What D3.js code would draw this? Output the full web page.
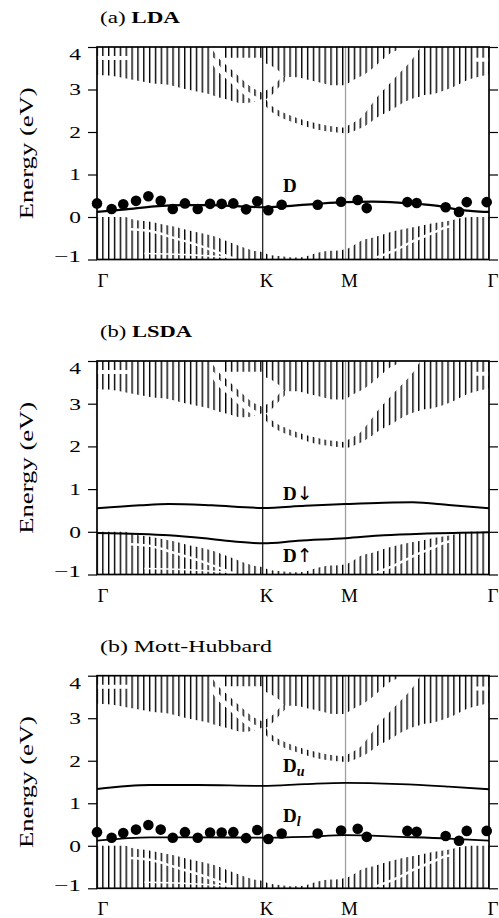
<!DOCTYPE html>
<html>
<head>
<meta charset="utf-8">
<script src="https://cdn.jsdelivr.net/npm/d3@7"></script>
<style>
body{margin:0;background:#fff}
</style>
</head>
<body>
<svg id="fig" width="499" height="918"></svg>
<script>
var FONT = "Liberation Serif";
// k path length along the hexagonal zone: G-K = 2/sqrt3, K-M = 1/sqrt3, M-G = 1
var kTicks = [0, 1.1547, 1.7321, 2.7321];
var kLabels = ["Γ", "K", "M", "Γ"];
var eTicks = [-1, 0, 1, 2, 3, 4];
var eTickLabels = ["−1", "0", "1", "2", "3", "4"];
var titles = ["(a) ", "(b) ", "(b) Mott-Hubbard"];
var titleBold = ["LDA", "LSDA", ""];

// projected bulk bands [k, lower E, upper E]
var valence = [[0,-1.1,0.0],[0.195,-1.1,0.0],[0.242,-1.1,-0.05],[0.312,-1.1,-0.09],[0.381,-1.1,-0.12],
  [0.451,-1.1,-0.17],[0.544,-1.1,-0.23],[0.634,-1.1,-0.31],[0.730,-1.1,-0.38],[0.822,-1.1,-0.46],
  [0.915,-1.1,-0.58],[1.008,-1.1,-0.70],[1.101,-1.1,-0.80],[1.1547,-1.1,-0.83],[1.192,-1.1,-0.88],
  [1.275,-1.1,-0.92],[1.366,-1.1,-0.95],[1.415,-1.1,-0.95],[1.519,-1.1,-0.86],[1.575,-1.1,-0.81],
  [1.694,-1.1,-0.78],[1.7321,-1.1,-0.76],[1.775,-1.1,-0.70],[1.810,-1.1,-0.62],[1.854,-1.1,-0.54],
  [1.903,-1.1,-0.50],[1.949,-1.1,-0.46],[2.019,-1.1,-0.38],[2.089,-1.1,-0.32],[2.158,-1.1,-0.27],
  [2.228,-1.1,-0.23],[2.321,-1.1,-0.16],[2.411,-1.1,-0.11],[2.481,-1.1,-0.07],[2.530,-1.1,-0.03],
  [2.600,-1.1,0.0],[2.7321,-1.1,0.0]];
var condGK = [[0,3.34,4.1],[0.079,3.33,4.1],[0.160,3.29,4.1],[0.265,3.22,4.1],[0.381,3.15,4.1],
  [0.497,3.11,4.1],[0.613,3.01,4.1],[0.730,2.93,4.1],[0.774,2.90,4.05],[0.845,2.82,3.75],
  [0.927,2.75,3.5],[1.008,2.68,3.25],[1.078,2.70,3.05],[1.1547,2.78,2.92]];
var condGKtop = [[0.87,3.75,4.1],[1.1547,3.75,4.1]];
var condKM = [[1.1547,3.62,4.1],[1.192,3.60,4.1],[1.241,3.50,4.1],[1.275,3.42,4.1],[1.310,3.30,4.1],
  [1.394,3.29,4.1],[1.485,3.22,4.1],[1.575,3.15,4.1],[1.645,3.10,4.1],[1.7321,3.10,4.1]];
var condKup = [[1.1547,2.75,2.95],[1.192,2.80,3.0],[1.241,2.95,3.12],[1.275,3.08,3.25],[1.310,3.2,3.32]];
var condKdown = [[1.1547,2.72,2.92],[1.192,2.55,2.70],[1.241,2.42,2.56],[1.310,2.30,2.44],[1.394,2.20,2.33],
  [1.485,2.10,2.24],[1.575,2.03,2.17],[1.645,2.0,2.13],[1.7321,1.97,2.1]];
var condMtop = [[1.7321,3.10,4.1],[1.775,3.2,4.1],[1.833,3.3,4.1],[1.903,3.45,4.1],[1.972,3.65,4.1],
  [2.042,3.85,4.1],[2.112,3.95,4.1]];
var condMup = [[1.7321,1.95,2.12],[1.775,2.0,2.2],[1.833,2.08,2.32],[1.903,2.22,2.6],[1.972,2.38,2.9],
  [2.042,2.5,3.15],[2.112,2.65,3.4],[2.195,2.78,3.7],[2.272,2.85,4.1]];
var condMG = [[2.251,2.86,4.1],[2.321,2.88,4.1],[2.370,2.92,4.1],[2.439,3.0,4.1],[2.509,3.1,4.1],
  [2.579,3.22,4.1],[2.648,3.29,4.1],[2.7321,3.36,4.1]];
var bulkAreas = [valence, condGK, condGKtop, condKM, condKup, condKdown, condMtop, condMup, condMG];

// white gaps inside the hatching [k, E]
var gapG1 = [[0,3.74],[0.216,3.74]];
var gapG2 = [[2.62,3.70],[2.7321,3.70]];
var gapBand = [[0.80,3.72],[0.845,3.5],[0.927,3.25],[1.008,3.0],[1.08,2.82],[1.13,2.74]];
var gapV1 = [[0.23,-0.29],[0.369,-0.33],[0.544,-0.50],[0.718,-0.68],[0.857,-0.85],[0.948,-0.97]];
var gapV2 = [[0.33,-0.86],[0.6,-0.88],[0.93,-0.95]];
var gapV3 = [[1.951,-0.95],[2.077,-0.78],[2.216,-0.55],[2.356,-0.35],[2.425,-0.25],[2.481,-0.22]];
var gaps = [[gapG1,4],[gapG2,4],[gapBand,5],[gapV1,2.5],[gapV2,1.5],[gapV3,2.5]];

// surface D band
var dLda = [[0,0.12],[0.2,0.18],[0.4,0.25],[0.6,0.28],[0.8,0.28],[1.0,0.25],[1.1547,0.23],[1.3,0.25],
  [1.53,0.31],[1.7321,0.35],[1.92,0.36],[2.1,0.34],[2.27,0.30],[2.4,0.25],[2.51,0.18],[2.62,0.14],[2.7321,0.12]];
var dDown = [[0,0.55],[0.3,0.62],[0.5,0.65],[0.8,0.62],[1.1547,0.56],[1.45,0.61],[1.7321,0.65],
  [2.0,0.68],[2.2,0.69],[2.45,0.63],[2.7321,0.55]];
var dUp = [[0,-0.03],[0.3,-0.05],[0.5,-0.08],[0.75,-0.15],[1.0,-0.24],[1.1547,-0.27],[1.4,-0.21],
  [1.7321,-0.15],[2.0,-0.08],[2.3,-0.04],[2.7321,-0.01]];
var dUpper = [[0,1.335],[0.37,1.43],[0.7,1.43],[1.1547,1.41],[1.45,1.45],[1.7321,1.48],[2.11,1.45],
  [2.45,1.39],[2.7321,1.33]];
var dLower = [[0,0.12],[0.37,0.2],[0.7,0.2],[1.1547,0.19],[1.45,0.21],[1.7321,0.25],[2.11,0.21],
  [2.45,0.17],[2.7321,0.12]];

// measured points
var expK = [0.0,0.102,0.183,0.272,0.358,0.444,0.528,0.613,0.702,0.788,0.869,0.950,1.039,1.117,1.194,
  1.287,1.538,1.701,1.817,1.880,2.163,2.228,2.430,2.523,2.577,2.716];
var expE = [0.32,0.19,0.30,0.38,0.49,0.38,0.19,0.32,0.19,0.31,0.31,0.32,0.18,0.37,0.16,
  0.29,0.29,0.36,0.40,0.21,0.35,0.33,0.23,0.12,0.35,0.35];

var panels = [
  {top:47, bottom:259.5, tw:80, lines:[[dLda,2.2]], dots:true,
   labels:[{k:1.296,e:0.595,t:"D",s:""}]},
  {top:361, bottom:574.5, tw:92, lines:[[dDown,2],[dUp,2]], dots:false,
   labels:[{k:1.296,e:0.745,t:"D",s:"↓"},{k:1.296,e:-0.70,t:"D",s:"↑"}]},
  {top:675.7, bottom:888.3, tw:172, lines:[[dUpper,1.8],[dLower,1.8]], dots:true,
   labels:[{k:1.296,e:1.74,t:"D",s:"u",sub:true},{k:1.296,e:0.566,t:"D",s:"l",sub:true}]}
];

var svg = d3.select("#fig");
var defs = svg.append("defs");
var step = 392 / 67;
var pat = defs.append("pattern").attr("id", "hatch")
  .attr("patternUnits", "userSpaceOnUse")
  .attr("x", 97 - 0.7).attr("y", 0)
  .attr("width", step).attr("height", 20);
pat.append("rect").attr("x", 0).attr("y", 0).attr("width", 1.4).attr("height", 20).attr("fill", "#000");

var x = d3.scaleLinear().domain([0, 2.7321]).range([97, 489]);

panels.forEach(function(p, i){
  var y = d3.scaleLinear().domain([-1, 4]).range([p.bottom, p.top]);
  var g = svg.append("g").attr("font-family", FONT);

  defs.append("clipPath").attr("id", "clip" + i)
    .append("rect").attr("x", 97).attr("y", p.top).attr("width", 392).attr("height", p.bottom - p.top);
  var plot = g.append("g").attr("clip-path", "url(#clip" + i + ")");

  var area = d3.area().x(function(d){ return x(d[0]); })
    .y0(function(d){ return y(d[1]); })
    .y1(function(d){ return y(d[2]); })
    .curve(d3.curveMonotoneX);
  bulkAreas.forEach(function(a){
    plot.append("path").attr("d", area(a)).attr("fill", "url(#hatch)");
  });

  var line = d3.line().x(function(d){ return x(d[0]); }).y(function(d){ return y(d[1]); })
    .curve(d3.curveMonotoneX);
  gaps.forEach(function(gp){
    plot.append("path").attr("d", line(gp[0])).attr("fill", "none")
      .attr("stroke", "#fff").attr("stroke-width", gp[1]);
  });

  // high symmetry lines
  plot.append("line").attr("x1", x(kTicks[1])).attr("x2", x(kTicks[1]))
    .attr("y1", p.top).attr("y2", p.bottom).attr("stroke", "#222").attr("stroke-width", 1.3);
  plot.append("line").attr("x1", x(kTicks[2])).attr("x2", x(kTicks[2]))
    .attr("y1", p.top).attr("y2", p.bottom).attr("stroke", "#a0a0a0").attr("stroke-width", 1.3);

  p.lines.forEach(function(l){
    plot.append("path").attr("d", line(l[0])).attr("fill", "none")
      .attr("stroke", "#000").attr("stroke-width", l[1]);
  });

  if(p.dots){
    g.selectAll(".dot").data(expK).enter().append("circle")
      .attr("cx", function(d){ return x(d); })
      .attr("cy", function(d, j){ return y(expE[j]); })
      .attr("r", 5.3).attr("fill", "#000");
  }

  // frame
  g.append("rect").attr("x", 97).attr("y", p.top).attr("width", 392).attr("height", p.bottom - p.top)
    .attr("fill", "none").attr("stroke", "#000").attr("stroke-width", 1.7);

  var left = g.append("g").attr("transform", "translate(97,0)")
    .call(d3.axisLeft(y).tickValues(eTicks).tickSize(9).tickPadding(7)
      .tickFormat(function(d, j){ return eTickLabels[j]; }))
    .attr("font-family", FONT).attr("font-size", 17);
  left.select(".domain").remove();
  left.selectAll("line").attr("stroke-width", 1.2);
  left.selectAll("text")
    .attr("font-family", FONT).attr("font-size", 17).attr("font-weight", "normal")
    .attr("textLength", function(d){ return d < 0 ? 27 : 11.7; })
    .attr("lengthAdjust", "spacingAndGlyphs")
    .attr("dy", function(d){ return d == 4 ? "0.75em" : (d == -1 ? "0.12em" : "0.32em"); });

  var right = g.append("g").attr("transform", "translate(489,0)")
    .call(d3.axisRight(y).tickValues(eTicks).tickSize(9).tickFormat(""));
  right.select(".domain").remove();
  right.selectAll("line").attr("stroke-width", 1.2);

  g.selectAll(".kl").data(kTicks).enter().append("text")
    .attr("x", function(d, j){ return x(d) + (j == 0 ? 6 : 4); })
    .attr("y", p.bottom + 27)
    .attr("text-anchor", "middle").attr("font-size", 19).attr("font-family", FONT)
    .text(function(d, j){ return kLabels[j]; });

  var t = g.append("text").attr("x", 100).attr("y", p.top - 24).attr("font-size", 17)
    .attr("font-family", FONT)
    .attr("textLength", p.tw).attr("lengthAdjust", "spacingAndGlyphs");
  t.append("tspan").text(titles[i]);
  if(titleBold[i]) t.append("tspan").attr("font-weight", "bold").text(titleBold[i]);

  g.append("text")
    .attr("transform", "translate(33," + ((p.top + p.bottom) / 2) + ") rotate(-90)")
    .attr("text-anchor", "middle").attr("font-size", 19).attr("font-family", FONT)
    .attr("font-weight", "normal")
    .attr("textLength", 132).attr("lengthAdjust", "spacingAndGlyphs")
    .text("Energy (eV)");

  p.labels.forEach(function(lb){
    var tx = g.append("text").attr("x", x(lb.k)).attr("y", y(lb.e)).attr("font-family", FONT)
      .attr("font-size", 19).attr("font-weight", "bold").text(lb.t);
    if(lb.sub){
      tx.append("tspan").attr("font-style", "italic").attr("font-size", 14).attr("dy", 4).text(lb.s);
    }else if(lb.s){
      tx.append("tspan").attr("font-weight", "normal").attr("font-family", "DejaVu Sans").text(lb.s);
    }
  });
});
</script>
</body>
</html>
